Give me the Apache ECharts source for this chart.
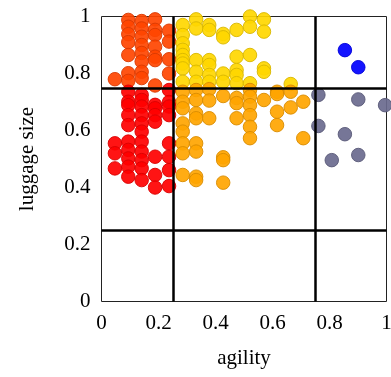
<!DOCTYPE html>
<html>
<head>
<meta charset="utf-8">
<script src="https://cdn.jsdelivr.net/npm/echarts@6/dist/echarts.min.js"></script>
<style>
  html, body { margin: 0; padding: 0; background: #fff; }
  #chart { width: 391px; height: 377px; }
</style>
</head>
<body>
<div id="chart"></div>
<script>
// quadrant thresholds and axis ticks
const thresholds = [0.25, 0.75];
const tickValues = [0, 0.2, 0.4, 0.6, 0.8, 1];

// [agility, luggage size] per group
const orangeRedPoints = [
  [0.047, 0.78],
  [0.094, 0.988], [0.094, 0.964], [0.094, 0.938], [0.094, 0.91], [0.094, 0.865], [0.094, 0.801], [0.094, 0.774],
  [0.141, 0.984], [0.141, 0.958], [0.141, 0.929], [0.141, 0.9], [0.141, 0.872], [0.141, 0.842], [0.141, 0.806], [0.141, 0.784],
  [0.188, 0.99], [0.188, 0.953], [0.188, 0.935], [0.188, 0.894], [0.188, 0.859], [0.188, 0.847], [0.188, 0.758],
  [0.237, 0.95], [0.237, 0.912], [0.237, 0.85], [0.237, 0.8]
];
const redPoints = [
  [0.047, 0.555], [0.047, 0.52], [0.047, 0.467],
  [0.094, 0.736], [0.094, 0.701], [0.094, 0.689], [0.094, 0.654], [0.094, 0.619], [0.094, 0.561], [0.094, 0.532], [0.094, 0.502], [0.094, 0.473], [0.094, 0.438],
  [0.141, 0.725], [0.141, 0.707], [0.141, 0.684], [0.141, 0.654], [0.141, 0.625], [0.141, 0.596], [0.141, 0.561], [0.141, 0.526], [0.141, 0.496], [0.141, 0.467], [0.141, 0.426],
  [0.188, 0.69], [0.188, 0.678], [0.188, 0.654], [0.188, 0.631], [0.188, 0.508], [0.188, 0.444], [0.188, 0.4],
  [0.237, 0.742], [0.237, 0.7], [0.237, 0.684], [0.237, 0.654], [0.237, 0.555], [0.237, 0.508], [0.237, 0.461], [0.237, 0.405]
];
const goldPoints = [
  [0.285, 0.97], [0.285, 0.935], [0.285, 0.906], [0.285, 0.883], [0.285, 0.865], [0.285, 0.847], [0.285, 0.835], [0.285, 0.818], [0.285, 0.771],
  [0.332, 0.99], [0.332, 0.958], [0.332, 0.847], [0.332, 0.806], [0.332, 0.771],
  [0.378, 0.97], [0.378, 0.953], [0.378, 0.847], [0.378, 0.83], [0.378, 0.795], [0.378, 0.771],
  [0.427, 0.939], [0.427, 0.927], [0.427, 0.8], [0.427, 0.771],
  [0.474, 0.953], [0.474, 0.859], [0.474, 0.812], [0.474, 0.795], [0.474, 0.766],
  [0.521, 1.0], [0.521, 0.964], [0.521, 0.865], [0.521, 0.766],
  [0.57, 0.99], [0.57, 0.947], [0.57, 0.818], [0.57, 0.806],
  [0.664, 0.763]
];
const orangePoints = [
  [0.285, 0.736], [0.285, 0.701], [0.285, 0.678], [0.285, 0.625], [0.285, 0.596], [0.285, 0.555], [0.285, 0.52], [0.285, 0.444],
  [0.332, 0.742], [0.332, 0.707], [0.332, 0.66], [0.332, 0.643], [0.332, 0.555], [0.332, 0.526], [0.332, 0.438], [0.332, 0.426],
  [0.378, 0.745], [0.378, 0.705], [0.378, 0.643],
  [0.427, 0.721], [0.427, 0.506], [0.427, 0.496], [0.427, 0.417],
  [0.474, 0.714], [0.474, 0.696], [0.474, 0.643],
  [0.521, 0.742], [0.521, 0.719], [0.521, 0.689], [0.521, 0.654], [0.521, 0.613], [0.521, 0.573],
  [0.57, 0.707],
  [0.616, 0.736], [0.616, 0.728], [0.616, 0.666], [0.616, 0.619],
  [0.664, 0.736], [0.664, 0.681],
  [0.708, 0.701], [0.708, 0.573]
];
const bluePoints = [[0.854, 0.882], [0.901, 0.822]];
const slatePoints = [
  [0.761, 0.725], [0.901, 0.709], [0.995, 0.689], [0.761, 0.616],
  [0.854, 0.587], [0.808, 0.496], [0.901, 0.514]
];

const font = 'Liberation Serif';

function group(data, color, border) {
  return {
    type: 'scatter',
    data: data,
    symbolSize: 13.5,
    clip: false,
    itemStyle: { color: color, borderColor: border, borderWidth: 1, opacity: 0.92 }
  };
}

const chart = echarts.init(document.getElementById('chart'));

const series = [
  group(orangeRedPoints, '#ff4500', '#d93a00'),
  group(redPoints, '#ff0000', '#d90000'),
  group(goldPoints, '#ffd700', '#d9b700'),
  group(orangePoints, '#ffa500', '#d98c00'),
  group(bluePoints, '#0000ff', '#0000d9'),
  group(slatePoints, '#6a6a8e', '#5a5a78')
];

// quadrant dividers
series.push({
  type: 'scatter',
  data: [],
  silent: true,
  markLine: {
    symbol: 'none',
    silent: true,
    animation: false,
    label: { show: false },
    lineStyle: { color: '#000', width: 2.5, type: 'solid' },
    data: thresholds.map(v => ({ xAxis: v })).concat(thresholds.map(v => ({ yAxis: v })))
  },
  z: 1
});

chart.setOption({
  animation: false,
  grid: {
    left: 101.5,
    top: 16.5,
    width: 285,
    height: 285,
    outerBoundsMode: 'none',
    show: true,
    borderColor: '#222',
    borderWidth: 1
  },
  xAxis: {
    type: 'value',
    min: 0,
    max: 1,
    interval: 0.2,
    name: 'agility',
    nameLocation: 'middle',
    nameGap: 46,
    nameTextStyle: { fontFamily: font, fontSize: 21, color: '#000' },
    axisLine: { show: false },
    axisTick: { show: false },
    splitLine: { show: false },
    axisLabel: {
      fontFamily: font, fontSize: 21, color: '#000', margin: 11,
      formatter: v => tickValues.includes(+v.toFixed(1)) ? String(+v.toFixed(1)) : ''
    }
  },
  yAxis: {
    type: 'value',
    min: 0,
    max: 1,
    interval: 0.2,
    name: 'luggage size',
    nameLocation: 'middle',
    nameGap: 64,
    nameTextStyle: { fontFamily: font, fontSize: 21, color: '#000' },
    axisLine: { show: false },
    axisTick: { show: false },
    splitLine: { show: false },
    axisLabel: {
      fontFamily: font, fontSize: 21, color: '#000', margin: 11,
      formatter: v => tickValues.includes(+v.toFixed(1)) ? String(+v.toFixed(1)) : ''
    }
  },
  series: series
});
</script>
</body>
</html>
